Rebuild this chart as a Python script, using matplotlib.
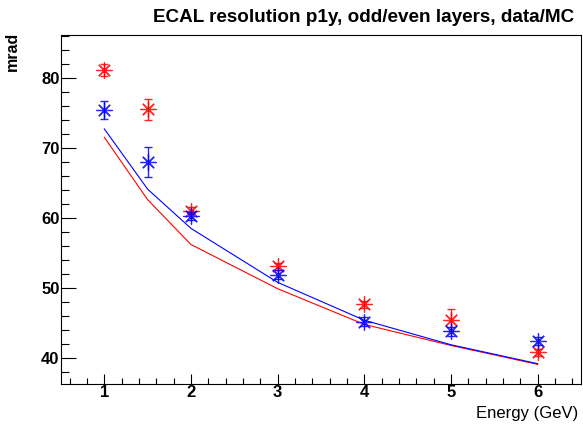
import matplotlib
matplotlib.use('Agg')
import matplotlib.pyplot as plt
from matplotlib.ticker import MultipleLocator

# energies of the test beam points
energy = [1, 1.5, 2, 3, 4, 5, 6]

# measured resolution (mrad) with errors
red_pts = [81.1, 75.5, 61.0, 53.1, 47.7, 45.4, 40.8]
red_err = [0.9, 1.5, 0.5, 0.5, 0.5, 1.6, 0.5]
blue_pts = [75.4, 68.0, 60.3, 51.9, 45.2, 43.8, 42.4]
blue_err = [1.3, 2.1, 0.6, 0.6, 0.6, 0.6, 0.6]

# simulation curves
red_mc = [71.5, 62.6, 56.2, 49.9, 44.8, 41.8, 39.1]
blue_mc = [72.7, 64.1, 58.5, 50.8, 45.4, 41.9, 39.2]

plt.rcParams['font.family'] = ['Liberation Sans', 'DejaVu Sans']

fig = plt.figure(figsize=(5.83, 4.25), dpi=100)
ax = fig.add_axes([61 / 583, 41 / 425, 520 / 583, 349 / 425])

ax.plot(energy, red_mc, color='red', lw=0.8)
ax.plot(energy, blue_mc, color='blue', lw=0.8)

star = (8, 2, 0)
for pts, err, col in [(red_pts, red_err, 'red'), (blue_pts, blue_err, 'blue')]:
    ax.errorbar(energy, pts, yerr=err, fmt='none', ecolor=col, alpha=0.85,
                elinewidth=1, capsize=3, capthick=1)
    ax.plot(energy, pts, ls='none', marker=star, ms=11.5, mew=0.9,
            color=col, alpha=0.85)

ax.set_xlim(0.5, 6.5)
ax.set_ylim(36.3, 86.1)

ax.xaxis.set_major_locator(MultipleLocator(1))
ax.xaxis.set_minor_locator(MultipleLocator(0.2))
ax.yaxis.set_major_locator(MultipleLocator(10))
ax.yaxis.set_minor_locator(MultipleLocator(2))

ax.tick_params(axis='both', which='both', direction='in', top=False, right=False,
               labelsize=12, width=0.8)
ax.tick_params(axis='y', which='major', length=11, pad=1)
ax.tick_params(axis='y', which='minor', length=5.5)
ax.tick_params(axis='x', which='major', length=7.5, pad=1)
ax.tick_params(axis='x', which='minor', length=4.3)
for lab in ax.get_xticklabels() + ax.get_yticklabels():
    lab.set_fontweight('bold')
for sp in ax.spines.values():
    sp.set_linewidth(0.8)

fig.text(0.623, 0.958, 'ECAL resolution p1y, odd/even layers, data/MC',
         ha='center', va='center', fontsize=13.6, fontweight='bold')
fig.text(0.022, 0.925, 'mrad', rotation=90, ha='center', va='top',
         fontsize=11.5, fontweight='bold')
fig.text(0.991, 0.027, 'Energy (GeV)', ha='right', va='center',
         fontsize=12)

plt.savefig('out.png', dpi=100)
